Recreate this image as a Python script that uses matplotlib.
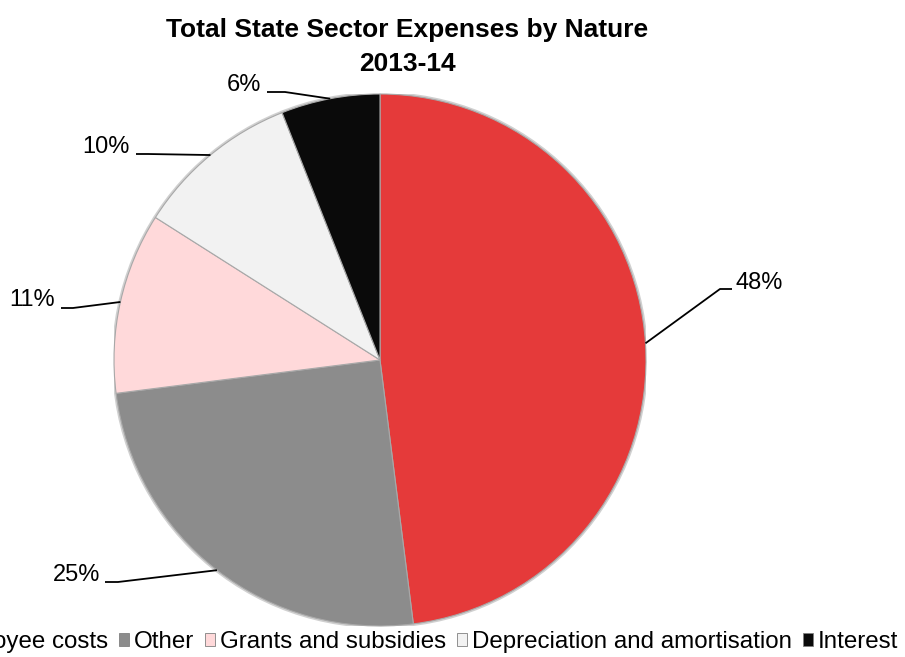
import numpy as np
import matplotlib
matplotlib.use("Agg")
import matplotlib.pyplot as plt
from matplotlib.patches import Patch, Circle

# Expense categories and their share of total expenses (%)
categories = ["Employee costs", "Other", "Grants and subsidies",
              "Depreciation and amortisation", "Interest"]
shares = [48, 25, 11, 10, 6]
colors = ["#E53A3A", "#8C8C8C", "#FFD9DA", "#F2F2F2", "#0A0A0A"]
title_lines = ["Total State Sector Expenses by Nature", "2013-14"]

plt.rcParams['font.family'] = ['Liberation Sans', 'DejaVu Sans']

W, H = 905, 657
fig = plt.figure(figsize=(W / 100, H / 100), dpi=100)

# pie placement in pixels (centre and radius)
cx, cy, r = 380, 360, 266
ax = fig.add_axes([(cx - r) / W, (H - cy - r) / H, 2 * r / W, 2 * r / H])

# soft shadow rim behind the pie
ax.add_patch(Circle((0, 0), 1.008, facecolor="#bdbdbd", edgecolor="none",
                    alpha=0.7, zorder=0))

wedges, _ = ax.pie(shares, colors=colors, startangle=90, counterclock=False,
                   radius=1.0,
                   wedgeprops=dict(edgecolor="#a8a8a8", linewidth=0.8,
                                   zorder=1))
ax.set_xlim(-1, 1)
ax.set_ylim(-1, 1)
ax.set_aspect("equal")
ax.axis("off")


def px2data(px, py):
    return (px - cx) / r, (cy - py) / r


# leader-line layout per slice: elbow, line end, text anchor (pixels), alignment
label_layout = [
    ((720, 289), (732, 289), (736, 283), "left"),
    ((118, 582), (105, 582), (100, 575), "right"),
    ((73, 308), (61, 308), (55, 300), "right"),
    ((148, 154), (136, 154), (130, 147), "right"),
    ((285, 92), (267, 92), (261, 85), "right"),
]

total = sum(shares)
for w, v, (elbow, end, txt, ha) in zip(wedges, shares, label_layout):
    mid = np.deg2rad((w.theta1 + w.theta2) / 2)
    x0, y0 = np.cos(mid), np.sin(mid)
    xe, ye = px2data(*elbow)
    xn, yn = px2data(*end)
    ax.plot([x0, xe, xn], [y0, ye, yn], color="black", lw=1.3,
            clip_on=False, solid_capstyle="butt", zorder=3)
    tx, ty = px2data(*txt)
    ax.text(tx, ty, f"{v / total * 100:.0f}%", ha=ha, va="center",
            fontsize=17, color="black", clip_on=False)

fig.text(407 / W, 1 - 30 / H, title_lines[0], ha="center", va="center",
         fontsize=19, fontweight="bold")
fig.text(407 / W, 1 - 64 / H, title_lines[1], ha="center", va="center",
         fontsize=19, fontweight="bold")

handles = [Patch(facecolor=c, edgecolor="#808080", linewidth=0.6) for c in colors]
fig.legend(handles, categories, loc="center right",
           bbox_to_anchor=(898 / W, 1 - 642 / H), ncol=5, frameon=False,
           fontsize=17.4, handlelength=0.42, handleheight=0.42,
           handletextpad=0.2, columnspacing=0.45, borderaxespad=0,
           borderpad=0)

fig.savefig("out.png", dpi=100)
